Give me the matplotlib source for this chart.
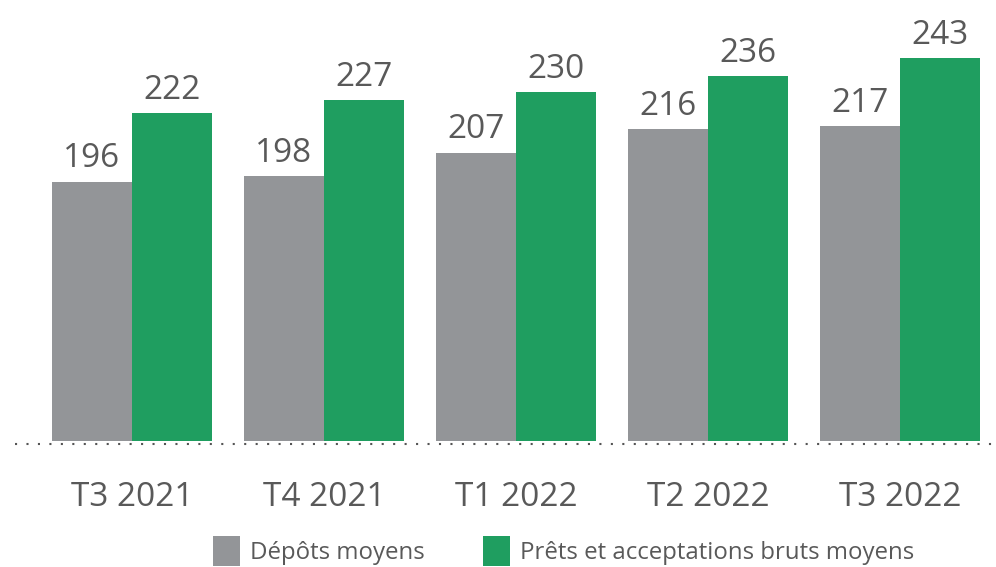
import matplotlib
matplotlib.use("Agg")
import matplotlib.pyplot as plt
import matplotlib.transforms as mtransforms
import numpy as np

categories = ["T3 2021", "T4 2021", "T1 2022", "T2 2022", "T3 2022"]
depots = [196, 198, 207, 216, 217]
prets = [222, 227, 230, 236, 243]
series_names = ["Dépôts moyens", "Prêts et acceptations bruts moyens"]

GRAY = "#939598"
GREEN = "#1f9e60"
TXT = "#595959"

plt.rcParams['font.family'] = ['Open Sans', 'DejaVu Sans']

fig = plt.figure(figsize=(9.96, 5.67), dpi=100)
ax = fig.add_axes([0.015, 0.2222, 0.985, 0.7778])

x = np.arange(len(categories))
w = 0.4167
b1 = ax.bar(x - w/2, depots, width=w, color=GRAY, label=series_names[0])
b2 = ax.bar(x + w/2, prets, width=w, color=GREEN, label=series_names[1])

ax.set_ylim(97.5, 265)
ax.set_xlim(-0.609, 4.5)

for rects, vals in ((b1, depots), (b2, prets)):
    for r, v in zip(rects, vals):
        ax.annotate(str(v), (r.get_x() + r.get_width()/2, v), xytext=(0, 4.5),
                    textcoords="offset points", ha="center", va="bottom",
                    fontsize=24, color=TXT)

trans = mtransforms.offset_copy(ax.transAxes, fig=fig, y=-2.5, units='dots')
ax.plot([0, 1], [0, 0], transform=trans, color="#555555",
        linestyle=(0, (1, 4.5)), linewidth=1.5, clip_on=False)

for s in ax.spines.values():
    s.set_visible(False)
ax.set_yticks([])
ax.set_xticks(x)
ax.set_xticklabels(categories, fontsize=24, color=TXT)
ax.tick_params(axis="x", length=0, pad=29)

fig.legend(handles=[b1, b2], labels=series_names, loc="lower center",
           bbox_to_anchor=(0.566, -0.036), ncol=2, frameon=False, fontsize=17.3,
           labelcolor=TXT, handlelength=1.12, handleheight=1.5, handletextpad=0.42,
           columnspacing=2.45)

fig.savefig("out.png", dpi=100)
